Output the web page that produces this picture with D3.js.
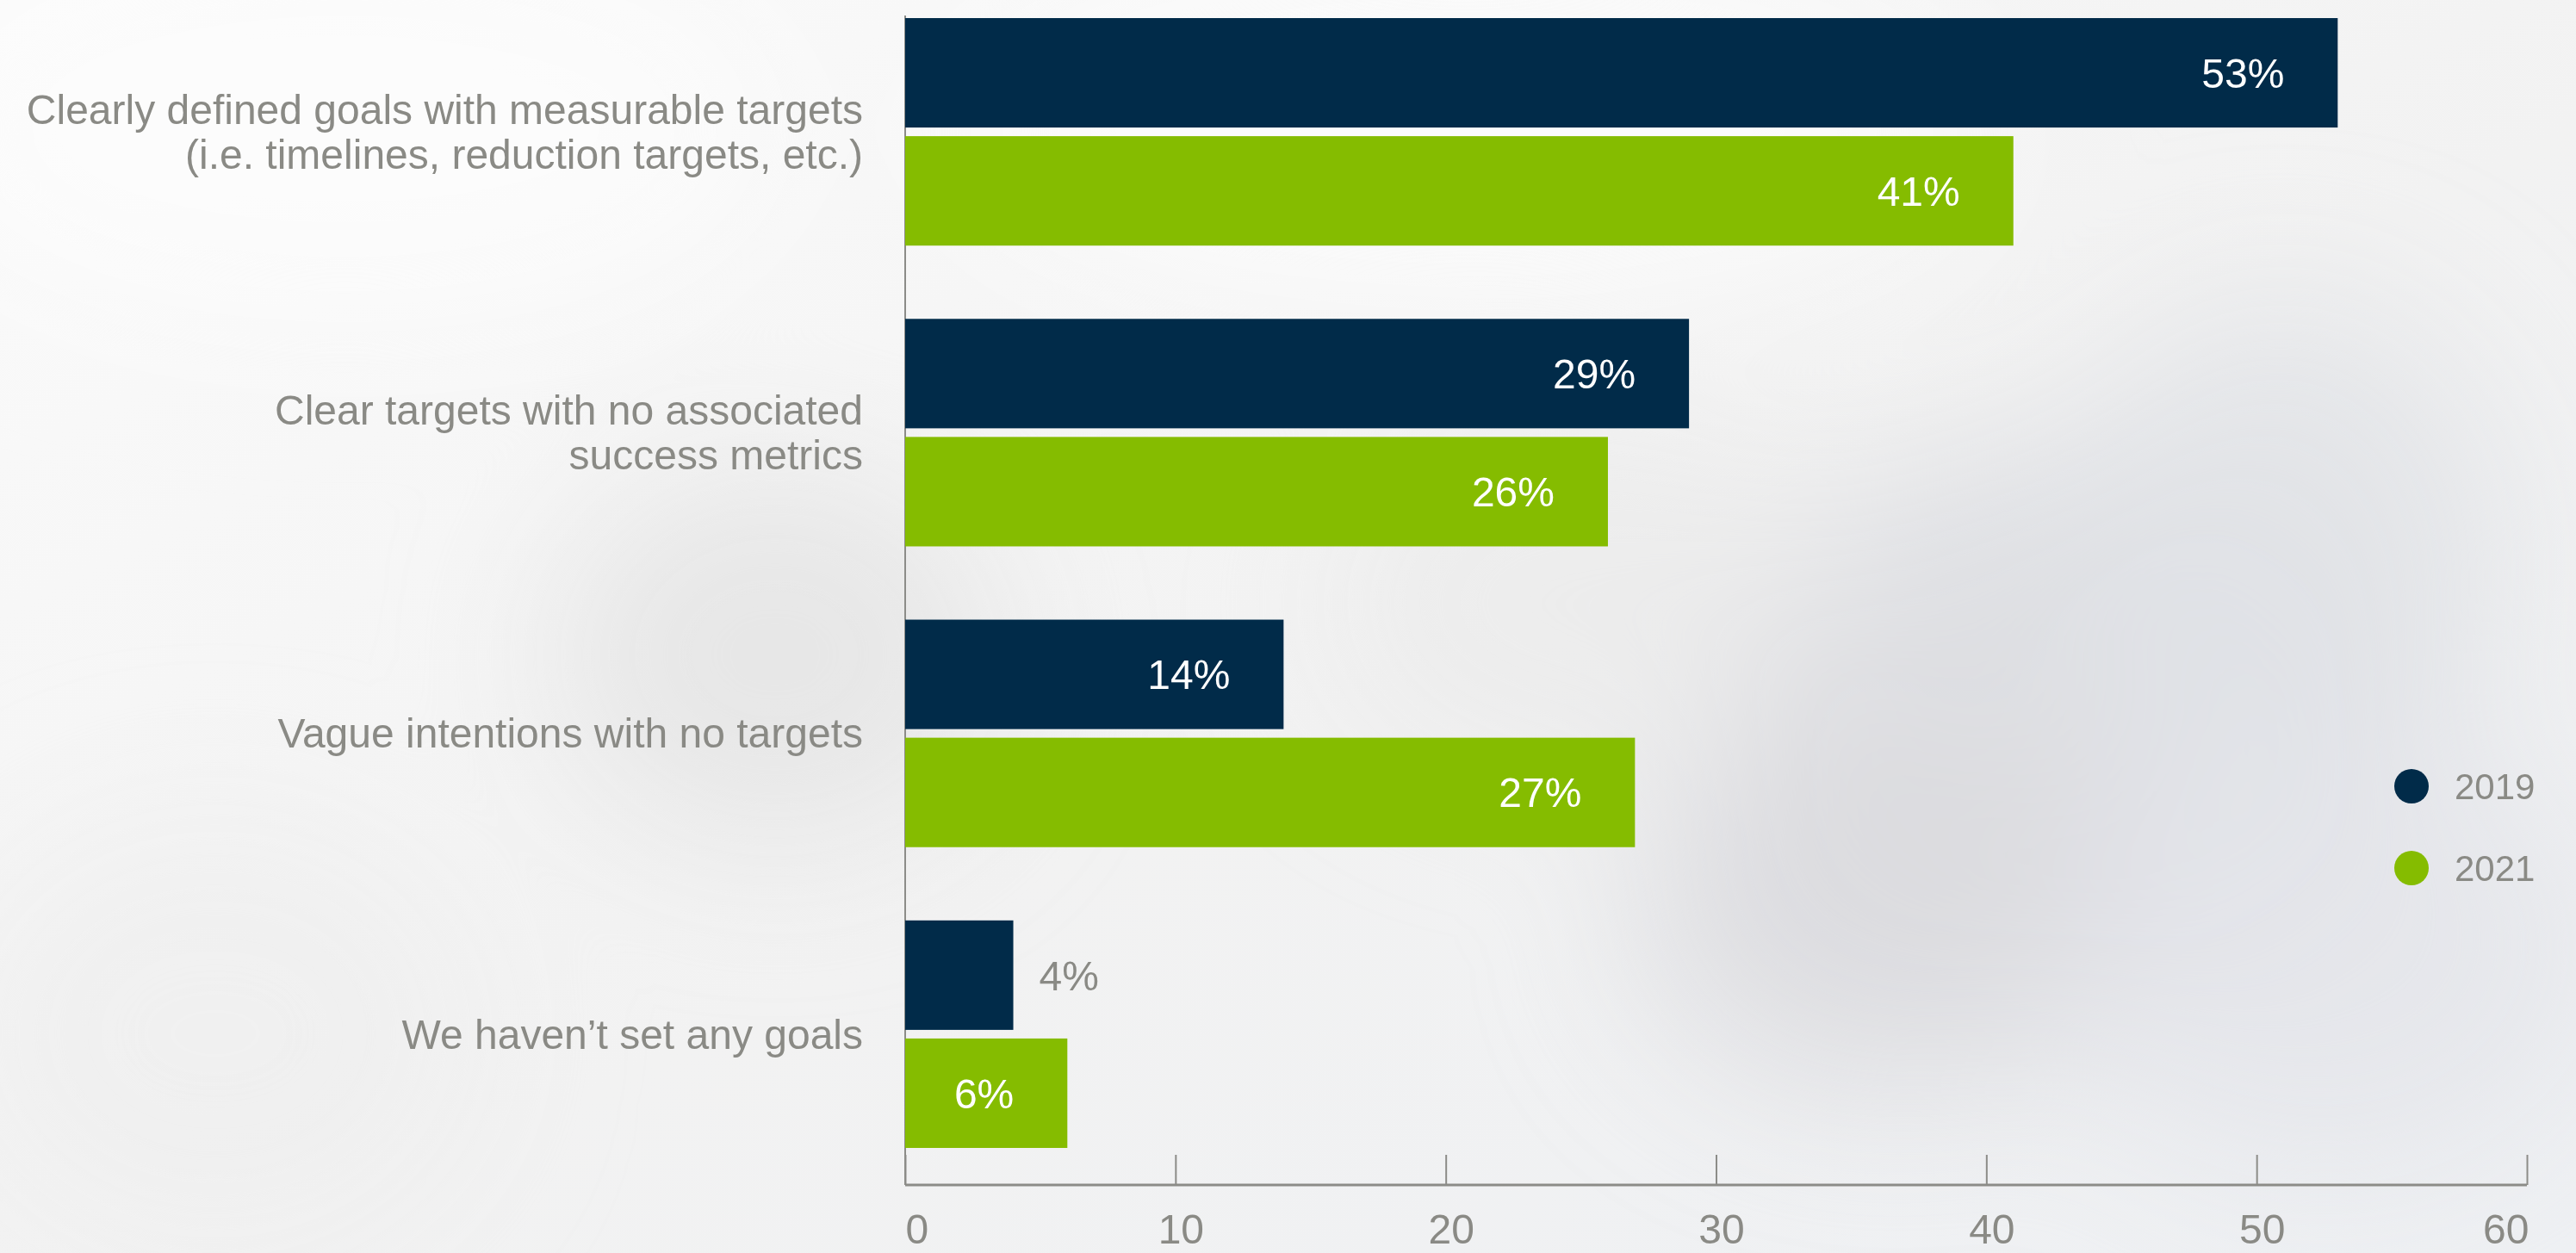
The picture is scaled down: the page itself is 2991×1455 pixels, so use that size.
<!DOCTYPE html>
<html>
<head>
<meta charset="utf-8">
<script src="https://cdn.jsdelivr.net/npm/d3@7"></script>
<style>
  html, body { margin: 0; padding: 0; background: #f7f7f7; overflow: hidden; }
  svg { display: block; }
  text { font-family: "Liberation Sans", Arial, Helvetica, sans-serif; }
</style>
</head>
<body>
<svg id="chart" width="2991" height="1455"></svg>
<script>
// ---- DATA ----
const categories = [
  "Clearly defined goals with measurable targets (i.e. timelines, reduction targets, etc.)",
  "Clear targets with no associated success metrics",
  "Vague intentions with no targets",
  "We haven’t set any goals"
];
const categoryLines = [
  ["Clearly defined goals with measurable targets", "(i.e. timelines, reduction targets, etc.)"],
  ["Clear targets with no associated", "success metrics"],
  ["Vague intentions with no targets"],
  ["We haven’t set any goals"]
];
const seriesNames = ["2019", "2021"];
const values2019 = [53, 29, 14, 4];
const values2021 = [41, 26, 27, 6];
const xTicks = [0, 10, 20, 30, 40, 50, 60];
const seriesColors = ["#012b49", "#85bc00"];

// ---- SETUP ----
const W = 2991, H = 1455;
const svg = d3.select("#chart");
const textGrey = "#8a8a85";
const axisGrey = "#8c8c88";

// background
const defs = svg.append("defs");
const bg = defs.append("linearGradient").attr("id", "bgLin").attr("x1", 0).attr("y1", 0).attr("x2", 1).attr("y2", 1);
bg.append("stop").attr("offset", "0%").attr("stop-color", "#fbfbfb");
bg.append("stop").attr("offset", "55%").attr("stop-color", "#f2f2f2");
bg.append("stop").attr("offset", "100%").attr("stop-color", "#eef0f3");
svg.append("rect").attr("width", W).attr("height", H).attr("fill", "url(#bgLin)");

const blur = defs.append("filter").attr("id", "blur").attr("x", "-50%").attr("y", "-50%").attr("width", "200%").attr("height", "200%");
blur.append("feGaussianBlur").attr("stdDeviation", 90);
const clouds = [
  {cx: 2400, cy: 850, rx: 420, ry: 330, c: "#dcdde1", o: 0.9},
  {cx: 2200, cy: 1050, rx: 300, ry: 220, c: "#d9dadd", o: 0.8},
  {cx: 2650, cy: 650, rx: 260, ry: 300, c: "#e0e2e6", o: 0.8},
  {cx: 2700, cy: 1100, rx: 320, ry: 260, c: "#e3e5ea", o: 0.8},
  {cx: 900, cy: 760, rx: 260, ry: 220, c: "#e4e4e4", o: 0.8},
  {cx: 1850, cy: 700, rx: 300, ry: 200, c: "#e9e9ea", o: 0.7},
  {cx: 250, cy: 1200, rx: 300, ry: 250, c: "#eeeeee", o: 0.7},
  {cx: 1700, cy: 150, rx: 600, ry: 200, c: "#fcfcfc", o: 0.8},
  {cx: 400, cy: 150, rx: 500, ry: 220, c: "#fcfcfc", o: 0.8}
];
svg.append("g").attr("filter", "url(#blur)")
  .selectAll("ellipse").data(clouds).join("ellipse")
  .attr("cx", d => d.cx).attr("cy", d => d.cy).attr("rx", d => d.rx).attr("ry", d => d.ry)
  .attr("fill", d => d.c).attr("opacity", d => d.o);

// scales
const x = d3.scaleLinear().domain([0, 60]).range([1051, 2934]);
const y = d3.scaleBand().domain(categories).range([21, 1333]).paddingInner(85 / 349).paddingOuter(0);
const ySub = d3.scaleBand().domain(seriesNames).range([0, y.bandwidth()]).paddingInner(10 / 137);
const color = d3.scaleOrdinal().domain(seriesNames).range(seriesColors);

const rows = categories.map((c, i) => ({
  category: c,
  lines: categoryLines[i],
  vals: [
    {series: "2019", value: values2019[i]},
    {series: "2021", value: values2021[i]}
  ]
}));

// vertical axis line
svg.append("line")
  .attr("x1", x(0)).attr("x2", x(0))
  .attr("y1", 18).attr("y2", 1376)
  .attr("stroke", axisGrey).attr("stroke-width", 2);

// bars
const groups = svg.append("g").selectAll("g").data(rows).join("g")
  .attr("transform", d => `translate(0,${y(d.category)})`);

groups.selectAll("rect").data(d => d.vals).join("rect")
  .attr("x", x(0))
  .attr("y", d => ySub(d.series))
  .attr("width", d => x(d.value) - x(0))
  .attr("height", ySub.bandwidth())
  .attr("fill", d => color(d.series));

// value labels
const inside = d => (x(d.value) - x(0) > 150);
groups.selectAll("text.val").data(d => d.vals).join("text")
  .attr("class", "val")
  .attr("x", d => inside(d) ? x(d.value) - 62 : x(d.value) + 30)
  .attr("y", d => ySub(d.series) + ySub.bandwidth() / 2)
  .attr("dy", "0.36em")
  .attr("text-anchor", d => inside(d) ? "end" : "start")
  .attr("font-size", 48)
  .attr("fill", d => inside(d) ? "#ffffff" : textGrey)
  .text(d => d.value + "%");

// category labels
const lineH = 52.5;
const catLabels = svg.append("g").selectAll("text").data(rows).join("text")
  .attr("text-anchor", "end")
  .attr("font-size", 48)
  .attr("fill", textGrey)
  .attr("transform", d => `translate(1002,${y(d.category) + y.bandwidth() / 2})`);
catLabels.selectAll("tspan").data(d => d.lines.map((t, i) => ({t, i, n: d.lines.length}))).join("tspan")
  .attr("x", 0)
  .attr("y", d => (d.i - (d.n - 1) / 2) * lineH)
  .attr("dy", "0.35em")
  .text(d => d.t);

// x axis
const xAxis = d3.axisBottom(x).tickValues(xTicks).tickSize(-35).tickPadding(0).tickFormat(d3.format("d"));
const gx = svg.append("g").attr("transform", "translate(0,1376)").call(xAxis);
gx.select(".domain").attr("stroke", axisGrey).attr("stroke-width", 3).attr("d", `M${x(0)},0H${x(60)}`);
gx.selectAll(".tick line").attr("stroke", axisGrey).attr("stroke-width", 2);
gx.selectAll(".tick text")
  .attr("font-size", 48)
  .attr("font-family", "Liberation Sans, Arial, sans-serif")
  .attr("fill", textGrey)
  .attr("y", 68)
  .attr("dy", 0)
  .attr("text-anchor", (d, i) => i === 0 ? "start" : (i === xTicks.length - 1 ? "end" : "middle"))
  .attr("x", (d, i) => i === 0 ? 0 : (i === xTicks.length - 1 ? 2 : 6));

// legend
const legend = svg.append("g").selectAll("g").data(seriesNames).join("g")
  .attr("transform", (d, i) => `translate(2800,${913 + i * 95})`);
legend.append("circle").attr("r", 20).attr("fill", d => color(d));
legend.append("text").attr("x", 50).attr("dy", "0.36em")
  .attr("font-size", 42).attr("fill", textGrey).text(d => d);
</script>
</body>
</html>
